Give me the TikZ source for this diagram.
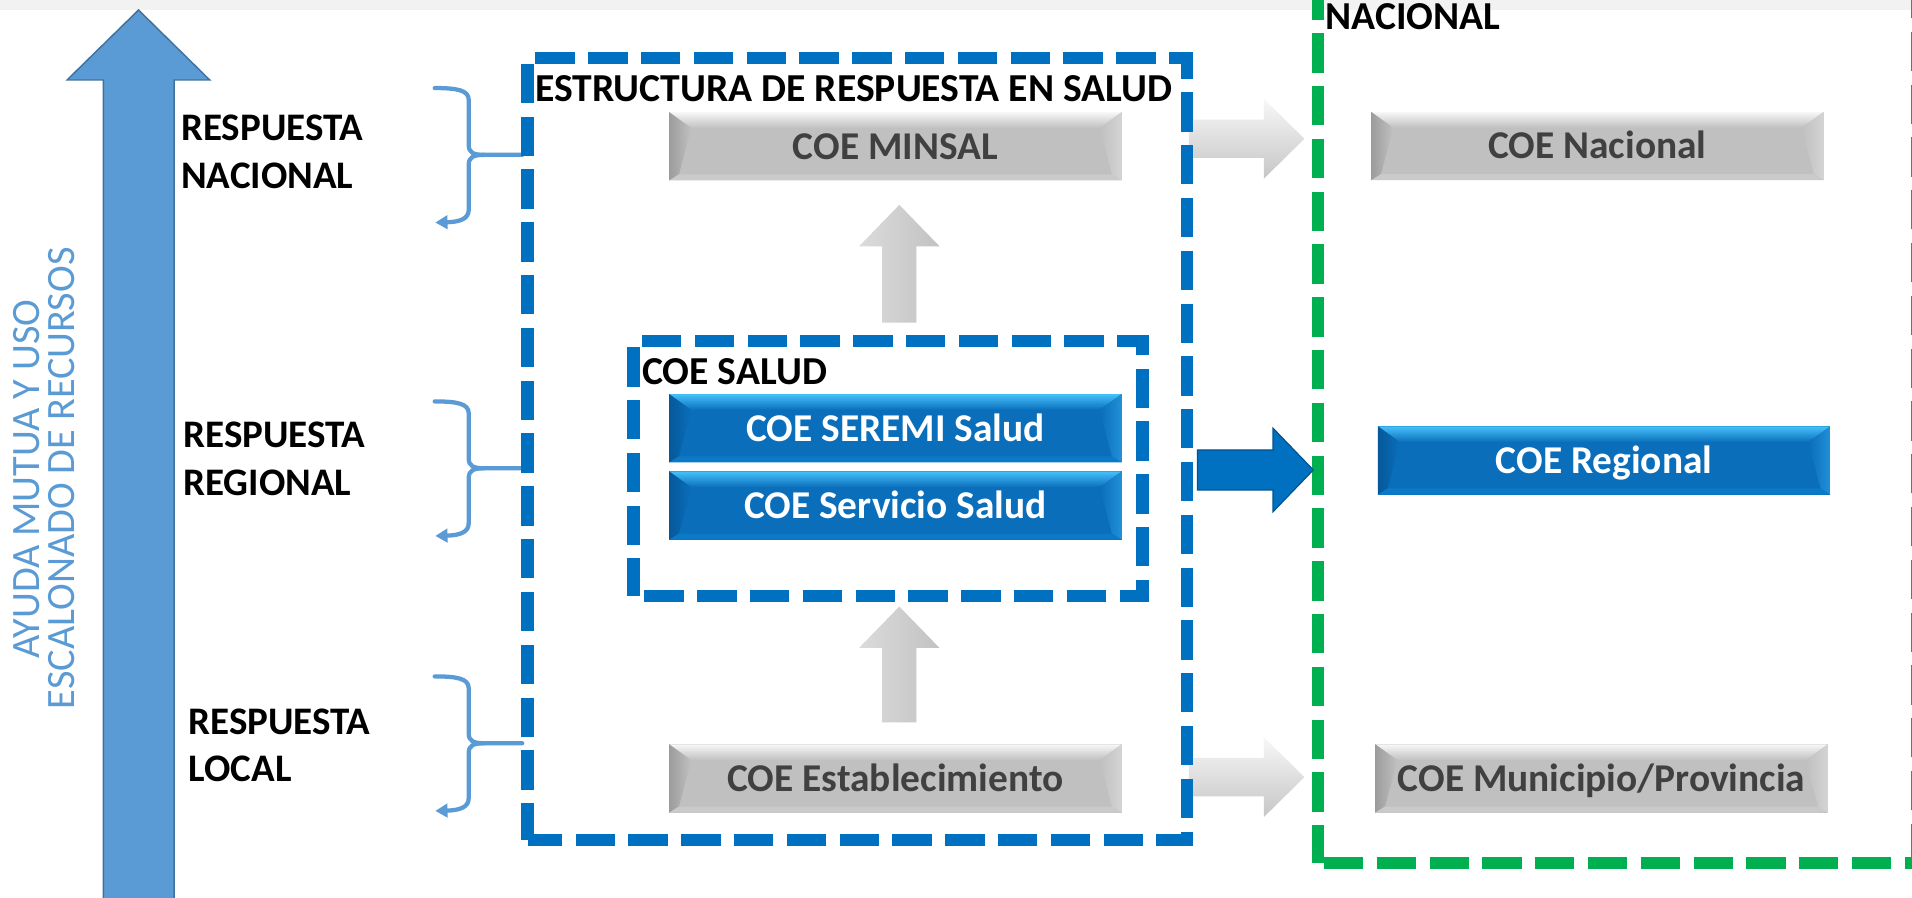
\documentclass[tikz,border=0pt]{standalone}
\usepackage{fontspec}
\setmainfont{Carlito}
\usetikzlibrary{calc,arrows.meta}
\definecolor{dblue}{HTML}{0070C0}
\definecolor{dgreen}{HTML}{00B050}
\definecolor{lblue}{HTML}{5B9BD5}
\definecolor{lblueedge}{HTML}{41719C}
\definecolor{band}{HTML}{F2F2F2}
\definecolor{txtgray}{HTML}{404040}
\definecolor{gbody}{HTML}{C0C0C0}
\definecolor{gtop}{HTML}{F7F7F7}
\definecolor{gleft}{HTML}{9C9C9C}
\definecolor{gright}{HTML}{D4D4D4}
\definecolor{gbot}{HTML}{CACACA}
\definecolor{bbody}{HTML}{0A6EBB}
\definecolor{btop}{HTML}{45C0FA}
\definecolor{bleft}{HTML}{06589A}
\definecolor{bright}{HTML}{2290D8}
\definecolor{bbot}{HTML}{0B79C8}
\definecolor{arrowdark}{HTML}{00558F}
\newcommand\DrawBevel[5]{%
  \coordinate (q1) at (path picture bounding box.north west);
  \coordinate (q2) at (path picture bounding box.north east);
  \coordinate (q3) at (path picture bounding box.south east);
  \coordinate (q4) at (path picture bounding box.south west);
  \fill[#2] (q1) rectangle (q3);
  \shade[top color=#1, bottom color=#2] (q1) -- (q2) -- ($(q2)+(-18,13)$) -- ($(q1)+(18,13)$) -- cycle;
  \shade[left color=#3, right color=#2] (q1) -- ($(q1)+(18,13)$) -- ($(q4)+(8,-5)$) -- (q4) -- cycle;
  \shade[left color=#2, right color=#4] (q2) -- ($(q2)+(-18,13)$) -- ($(q3)+(-8,-5)$) -- (q3) -- cycle;
  \fill[#5] (q4) -- ($(q4)+(8,-5)$) -- ($(q3)+(-8,-5)$) -- (q3) -- cycle;
}
\newcommand\CoeBrace[2]{%
  \begin{scope}[shift={(0,#2)}]
    \coordinate (#1) at (428.3,0);
    \draw[bracestyle] (356.5,-54.8) .. controls (375,-54.8) and (384.4,-53) .. (384.4,-45) -- (384.4,-8) .. controls (384.4,-2) and (388,0) .. (397,0) -- (#1);
    \draw[bracestyle, -{Triangle[length=10pt,width=11pt]}] (397,0) .. controls (388,0) and (384.4,2) .. (384.4,8) -- (384.4,45) .. controls (384.4,53) and (376,55) .. (357,55.5);
  \end{scope}
}
\newcommand\GrayUp[3]{%
  \shade[left color=gray!28, middle color=gray!8, right color=gray!48] (#1,#2) -- (#1+33,#2+34) -- (#1+14,#2+34) -- (#1+14,#3) -- (#1-14,#3) -- (#1-14,#2+34) -- (#1-33,#2+34) -- cycle;
}
\newcommand\GrayRight[2]{%
  \shade[top color=gray!6, middle color=gray!28, bottom color=gray!45] (975,#2-15.7) -- (1036.5,#2-15.7) -- (1036.5,#2-32.7) -- (1069.7,#2) -- (1036.5,#2+32.7) -- (1036.5,#2+15.7) -- (975,#2+15.7) -- cycle;
}
\tikzset{
  coebase/.style={minimum width=371pt, minimum height=56pt, inner sep=0pt, text height=21pt, text depth=0pt, font=\fontsize{32.3}{36}\selectfont\bfseries},
  graybox/.style={coebase, fill=gbody, text=txtgray, path picture={\DrawBevel{gtop}{gbody}{gleft}{gright}{gbot}}},
  bluebox/.style={coebase, fill=bbody, text=white, path picture={\DrawBevel{btop}{bbody}{bleft}{bright}{bbot}}},
  lbl/.style={inner sep=0pt, font=\fontsize{32}{39}\selectfont\bfseries, align=left},
  ttl/.style={inner sep=0pt, font=\fontsize{32.5}{39}\selectfont\bfseries},
  vtxt/.style={inner sep=0pt, text=lblue, font=\fontsize{33}{33}\selectfont, rotate=90, anchor=base},
  bdash/.style={draw=dblue, line width=10pt, dash pattern=on 32.3pt off 11pt},
  gdash/.style={draw=dgreen, line width=10pt, dash pattern=on 32.3pt off 11pt},
  bracestyle/.style={draw=lblue, line width=3.5pt, line cap=round, line join=round},
}
\begin{document}
\begin{tikzpicture}[x=1pt,y=-1pt]
\useasboundingbox (0,0) rectangle (1568,736.4);
\clip (0,0) rectangle (1568,736.4);
\fill[white] (0,0) rectangle (1568,736.4);
\fill[band] (0,0) rectangle (1568,8.2);

% big vertical arrow
\filldraw[fill=lblue, draw=lblueedge, line width=1.2pt] (113.6,8.2) -- (172,65.6) -- (142.8,65.6) -- (142.8,745) -- (84.7,745) -- (84.7,65.6) -- (55,65.6) -- cycle;
\node[vtxt] (v1) at (32.8,393) {AYUDA MUTUA Y USO};
\node[vtxt] (v2) at (61.5,392.2) {ESCALONADO DE RECURSOS};

% level labels
\node[lbl, anchor=north west] (rnac) at (148.4,94.3) {RESPUESTA\\NACIONAL};
\node[lbl, anchor=north west] (rreg) at (150.3,345.8) {RESPUESTA\\REGIONAL};
\node[lbl, anchor=north west] (rloc) at (154.4,580.8) {RESPUESTA\\LOCAL};

% braces
\CoeBrace{bnac}{127}
\CoeBrace{breg}{384}
\CoeBrace{bloc}{609.5}

% gray horizontal arrows (behind the dashed frame)
\GrayRight{ga1}{113.8}
\GrayRight{ga2}{637.3}

% boxes
\node[graybox] (minsal) at (734.3,120) {COE MINSAL};
\node[bluebox] (seremi) at (734.3,351.2) {COE SEREMI Salud};
\node[bluebox] (servicio) at (734.3,414.6) {COE Servicio Salud};
\node[graybox] (estab) at (734.3,638.4) {COE Establecimiento};
\node[graybox] (cnac) at (1310,119.8) {COE Nacional};
\node[bluebox] (creg) at (1315.5,377.6) {COE Regional};
\node[graybox] (cmun) at (1313.4,638.4) {COE Municipio/Provincia};

% gray up arrows
\GrayUp{737.5}{168}{264.6}
\GrayUp{737.5}{497.4}{592.5}

% dashed frames
\draw[bdash, dash phase=36.8pt] (432.6,47.4) -- (973.7,47.4) -- (973.7,688.9) -- (432.6,688.9);
\draw[bdash] (432.6,52.4) -- (432.6,688.9);
\draw[bdash, dash phase=36.3pt] (519.5,279.8) -- (937,279.8) -- (937,489) -- (519.5,489);
\draw[bdash] (519.5,284.8) -- (519.5,489);
\draw[gdash] (1080.7,-16) -- (1080.7,707.8);
\draw[gdash] (1085.7,707.8) -- (1580,707.8);
\draw[gdash] (1571.8,707.8) -- (1571.8,-16);

% blue arrow
\filldraw[fill=dblue, draw=arrowdark, line width=1pt] (982,369) -- (1044,369) -- (1044,351.2) -- (1077,385.4) -- (1044,419.6) -- (1044,401.8) -- (982,401.8) -- cycle;

% frame titles
\node[ttl, anchor=base west] (tsalud) at (439,83.4) {ESTRUCTURA DE RESPUESTA EN SALUD};
\node[ttl, anchor=base west] (tcoe) at (526.5,315.7) {COE SALUD};
\node[ttl, anchor=base west] (tnac) at (1087,24.6) {NACIONAL};
\end{tikzpicture}
\end{document}
